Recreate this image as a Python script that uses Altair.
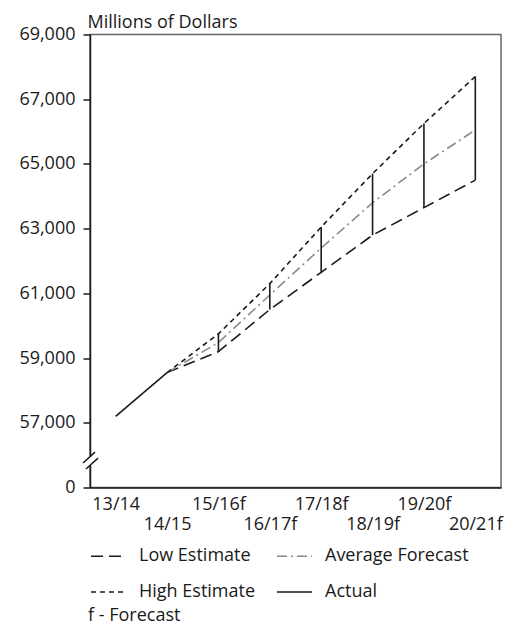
import altair as alt
import pandas as pd

years = ["13/14", "14/15", "15/16f", "16/17f", "17/18f", "18/19f", "19/20f", "20/21f"]
actual_years = ["13/14", "14/15"]
actual = [57200, 58550]
forecast_years = ["14/15", "15/16f", "16/17f", "17/18f", "18/19f", "19/20f", "20/21f"]
low = [58550, 59200, 60500, 61650, 62800, 63650, 64500]
high = [58550, 59750, 61300, 63050, 64700, 66250, 67700]
average = [58550, 59480, 60950, 62400, 63800, 65000, 66050]
series_order = ["Low Estimate", "High Estimate", "Average Forecast", "Actual"]
y_ticks = [55000, 57000, 59000, 61000, 63000, 65000, 67000, 69000]
y_tick_labels = ["0", "57,000", "59,000", "61,000", "63,000", "65,000", "67,000", "69,000"]
footnote = ["f - Forecast"]

FONT = "Open Sans"

rows = []
for y, v in zip(actual_years, actual):
    rows.append({"year": y, "value": v, "series": "Actual", "idx": years.index(y)})
for name, vals in [("Low Estimate", low), ("Average Forecast", average), ("High Estimate", high)]:
    for y, v in zip(forecast_years, vals):
        rows.append({"year": y, "value": v, "series": name, "idx": years.index(y)})
df = pd.DataFrame(rows)

rng = pd.DataFrame({"year": forecast_years[1:], "low": low[1:], "high": high[1:]})

label_map = "{" + ",".join(f"'{v}':'{l}'" for v, l in zip(y_ticks, y_tick_labels)) + "}"
y_label_expr = f"{label_map}[datum.value + '']"
second_row = [y for i, y in enumerate(years) if i % 2 == 1]
x_label_expr = "indexof([" + ",".join(f"'{y}'" for y in second_row) + "], datum.label) >= 0 ? ['', datum.label] : datum.label"

x_enc = alt.X(
    "year:N",
    sort=years,
    scale=alt.Scale(type="point", padding=0.5, domain=years),
    axis=alt.Axis(
        title=None, labelAngle=0, ticks=False, labelExpr=x_label_expr,
        labelFontSize=18, labelFont=FONT, labelColor="#1a1a1a", labelLineHeight=20,
        labelPadding=8, labelOverlap=False, labelBound=False, labelFlush=False,
        domainColor="#1a1a1a", domainWidth=1.5,
    ),
)
y_scale = alt.Scale(domain=[55000, 69000], nice=False, zero=False)
y_axis = alt.Axis(
    values=y_ticks, labelExpr=y_label_expr, grid=False,
    title="Millions of Dollars", titleAngle=0, titleAlign="left", titleBaseline="alphabetic",
    titleX=-3, titleY=-7, titleFont=FONT, titleFontSize=18, titleFontWeight="normal",
    titleColor="#1a1a1a",
    labelFontSize=18, labelFont=FONT, labelColor="#1a1a1a", labelPadding=8,
    tickSize=7, tickColor="#1a1a1a", tickWidth=1.5,
    domainColor="#1a1a1a", domainWidth=1.5,
)

legend = alt.Legend(
    orient="none", legendX=0, legendY=503, columns=2, title=None,
    symbolType="stroke", symbolSize=1225, symbolStrokeWidth=1.6,
    labelFontSize=18, labelFont=FONT, labelColor="#1a1a1a", labelOffset=12,
    columnPadding=17, rowPadding=8, padding=0,
)

lines = alt.Chart(df).mark_line(strokeWidth=1.6).encode(
    x=x_enc,
    y=alt.Y("value:Q", scale=y_scale, axis=y_axis),
    color=alt.Color("series:N", scale=alt.Scale(domain=series_order,
                    range=["#1a1a1a", "#1a1a1a", "#8a8a8a", "#1a1a1a"]), legend=legend),
    strokeDash=alt.StrokeDash("series:N", scale=alt.Scale(domain=series_order,
                    range=[[12, 6], [5, 4], [10, 4, 2, 4], [1, 0]]), legend=legend),
    order=alt.Order("idx:Q"),
)

bars = alt.Chart(rng).mark_rule(color="#1a1a1a", strokeWidth=1.6).encode(
    x=alt.X("year:N", sort=years),
    y=alt.Y("low:Q", scale=y_scale),
    y2="high:Q",
)

# axis break decoration
gap = alt.Chart(pd.DataFrame({"a": [55677], "b": [55955]})).mark_rule(
    color="white", strokeWidth=4).encode(
    x=alt.value(0), y=alt.Y("a:Q", scale=y_scale), y2="b:Q")
slashes = alt.Chart(pd.DataFrame({"a": [55755, 55570], "b": [56094, 55909],
                                  "xa": [-7, -4], "xb": [5, 8]})).mark_rule(
    color="#1a1a1a", strokeWidth=1.5).encode(
    x=alt.X("xa:Q", scale=None), x2="xb:Q",
    y=alt.Y("a:Q", scale=y_scale), y2="b:Q")

note = alt.Chart(pd.DataFrame({"t": footnote})).mark_text(
    align="left", baseline="alphabetic", fontSize=18, font=FONT, color="#1a1a1a").encode(
    x=alt.value(-2), y=alt.value(586), text="t:N")

chart = alt.layer(lines, bars, gap, slashes, note).properties(
    width=411, height=453,
    autosize=alt.AutoSizeParams(type="none"),
    padding={"left": 82, "top": 26.5, "right": 5, "bottom": 138},
).configure_view(stroke="#666666", strokeWidth=1.5).resolve_scale(x="shared")

chart.save("out.html", embed_options={"renderer": "svg", "actions": False})
